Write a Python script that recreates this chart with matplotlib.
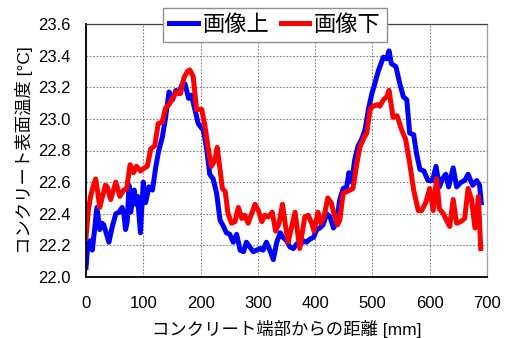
import matplotlib
matplotlib.use("Agg")
import matplotlib.pyplot as plt
from matplotlib.ticker import FormatStrFormatter

plt.rcParams['font.family'] = ['Liberation Sans', 'Noto Sans CJK JP', 'DejaVu Sans']

# distance from concrete edge [mm] and surface temperature [°C]
upper_x = [0, 3, 7, 11, 15, 19, 24, 28, 31, 36, 40, 46, 52, 58, 63, 66, 69, 72, 75, 78,
           84, 87, 90, 95, 100, 104, 110, 116, 122, 127, 133, 139, 145, 151, 157, 162,
           168, 173, 179, 184, 190, 196, 202, 205, 211, 216, 222, 228, 234, 240, 245,
           251, 257, 263, 269, 275, 280, 286, 292, 298, 304, 309, 315, 321, 327, 333,
           339, 344, 350, 356, 362, 368, 373, 379, 385, 391, 397, 403, 408, 414, 420,
           426, 432, 437, 443, 449, 455, 459, 464, 469, 475, 481, 487, 493, 499, 504,
           510, 516, 519, 525, 529, 533, 541, 548, 554, 560, 565, 572, 577, 583, 590,
           597, 605, 611, 617, 622, 628, 633, 641, 647, 655, 661, 667, 675, 682, 687, 690]
upper_t = [22.06, 22.20, 22.23, 22.17, 22.30, 22.44, 22.30, 22.34, 22.33, 22.27, 22.22,
           22.32, 22.40, 22.41, 22.44, 22.40, 22.30, 22.35, 22.58, 22.41, 22.55, 22.46,
           22.51, 22.28, 22.60, 22.47, 22.57, 22.55, 22.70, 22.80, 22.88, 23.01, 23.17,
           23.12, 23.18, 23.16, 23.22, 23.22, 23.13, 23.15, 23.06, 22.97, 22.94, 22.93,
           22.80, 22.65, 22.62, 22.53, 22.36, 22.32, 22.28, 22.27, 22.22, 22.27, 22.17,
           22.16, 22.22, 22.19, 22.16, 22.17, 22.18, 22.17, 22.22, 22.17, 22.11, 22.22,
           22.28, 22.25, 22.23, 22.19, 22.18, 22.21, 22.20, 22.23, 22.22, 22.24, 22.25,
           22.30, 22.31, 22.33, 22.40, 22.38, 22.31, 22.34, 22.49, 22.56, 22.57, 22.66,
           22.60, 22.74, 22.83, 22.87, 22.93, 23.06, 23.16, 23.22, 23.30, 23.36, 23.39,
           23.38, 23.43, 23.35, 23.33, 23.22, 23.14, 23.12, 22.91, 22.90, 22.78, 22.68,
           22.67, 22.61, 22.61, 22.70, 22.57, 22.62, 22.65, 22.57, 22.69, 22.57, 22.60,
           22.61, 22.65, 22.58, 22.61, 22.58, 22.47]

lower_x = [0, 4, 8, 13, 17, 20, 24, 28, 31, 34, 37, 43, 48, 52, 56, 59, 66, 71, 77, 83,
           88, 95, 102, 107, 113, 120, 126, 133, 139, 145, 151, 158, 165, 171, 177, 181,
           187, 193, 202, 208, 213, 219, 225, 229, 234, 238, 243, 248, 254, 260, 266,
           272, 277, 283, 289, 295, 301, 307, 312, 318, 325, 331, 337, 343, 348, 353,
           359, 365, 373, 382, 388, 394, 398, 405, 410, 416, 422, 428, 433, 439, 443,
           449, 455, 461, 466, 472, 478, 484, 490, 496, 501, 509, 513, 519, 525, 529,
           536, 543, 551, 558, 565, 572, 580, 586, 593, 600, 606, 612, 617, 624, 629,
           635, 641, 647, 654, 661, 667, 673, 679, 685, 689]
lower_t = [22.25, 22.42, 22.51, 22.58, 22.62, 22.55, 22.44, 22.50, 22.54, 22.58, 22.57,
           22.49, 22.55, 22.60, 22.55, 22.51, 22.55, 22.56, 22.71, 22.66, 22.70, 22.67,
           22.69, 22.70, 22.81, 22.83, 22.97, 22.98, 23.07, 23.09, 23.13, 23.17, 23.16,
           23.26, 23.30, 23.31, 23.27, 23.06, 23.06, 22.95, 22.82, 22.70, 22.74, 22.82,
           22.68, 22.56, 22.54, 22.40, 22.34, 22.35, 22.44, 22.37, 22.39, 22.34, 22.40,
           22.46, 22.42, 22.35, 22.39, 22.38, 22.41, 22.29, 22.34, 22.46, 22.33, 22.22,
           22.32, 22.41, 22.18, 22.38, 22.39, 22.34, 22.29, 22.41, 22.34, 22.39, 22.50,
           22.47, 22.40, 22.33, 22.36, 22.53, 22.54, 22.55, 22.56, 22.70, 22.82, 22.87,
           22.91, 23.06, 23.08, 23.09, 23.08, 23.12, 23.14, 23.18, 23.01, 23.02, 22.93,
           22.87, 22.72, 22.55, 22.42, 22.42, 22.47, 22.56, 22.42, 22.62, 22.43, 22.40,
           22.36, 22.32, 22.49, 22.34, 22.35, 22.37, 22.56, 22.49, 22.31, 22.51, 22.18]

series_labels = ['画像上', '画像下']
x_ticks = [0, 100, 200, 300, 400, 500, 600, 700]
y_ticks = [22.0, 22.2, 22.4, 22.6, 22.8, 23.0, 23.2, 23.4, 23.6]

fig = plt.figure(figsize=(5.08, 3.38), dpi=100)
ax = fig.add_axes([86 / 508, 1 - 277 / 338, 401 / 508, 253 / 338])

ax.plot(upper_x, upper_t, color='#0000ff', lw=3.6, label=series_labels[0], solid_joinstyle='round')
ax.plot(lower_x, lower_t, color='#ff0000', lw=3.6, label=series_labels[1], solid_joinstyle='round')

ax.set_xlim(0, 700)
ax.set_ylim(22.0, 23.6)
ax.set_xticks(x_ticks)
ax.set_yticks(y_ticks)
ax.yaxis.set_major_formatter(FormatStrFormatter('%.1f'))
ax.tick_params(length=0, labelsize=12, colors='black')
ax.tick_params(axis='y', pad=11)
ax.tick_params(axis='x', pad=14)
ax.grid(True, color='#808080', linestyle=(0, (1.5, 1.5)), lw=0.8)
ax.set_axisbelow(True)

ax.spines['left'].set_linewidth(1.3)
ax.spines['bottom'].set_linewidth(1.3)
ax.spines['top'].set_color('#404040')
ax.spines['top'].set_linewidth(0.9)
ax.spines['right'].set_color('#a0a0a0')
ax.spines['right'].set_linewidth(0.9)

ax.set_xlabel('コンクリート端部からの距離 [mm]', fontsize=12.5, labelpad=6)
ax.set_ylabel('コンクリート表面温度 [°C]', fontsize=12.5, labelpad=4)

leg = fig.legend(loc='upper center', bbox_to_anchor=(275 / 508, 1 - 8 / 338), ncol=2,
                 fontsize=16, frameon=True, fancybox=False, handlelength=1.3,
                 handletextpad=0.2, columnspacing=0.5, borderpad=0.3,
                 borderaxespad=0)
leg.get_frame().set_edgecolor('#909090')
leg.get_frame().set_linewidth(1.0)
leg.get_frame().set_alpha(1.0)

fig.savefig('out.png', dpi=100)
